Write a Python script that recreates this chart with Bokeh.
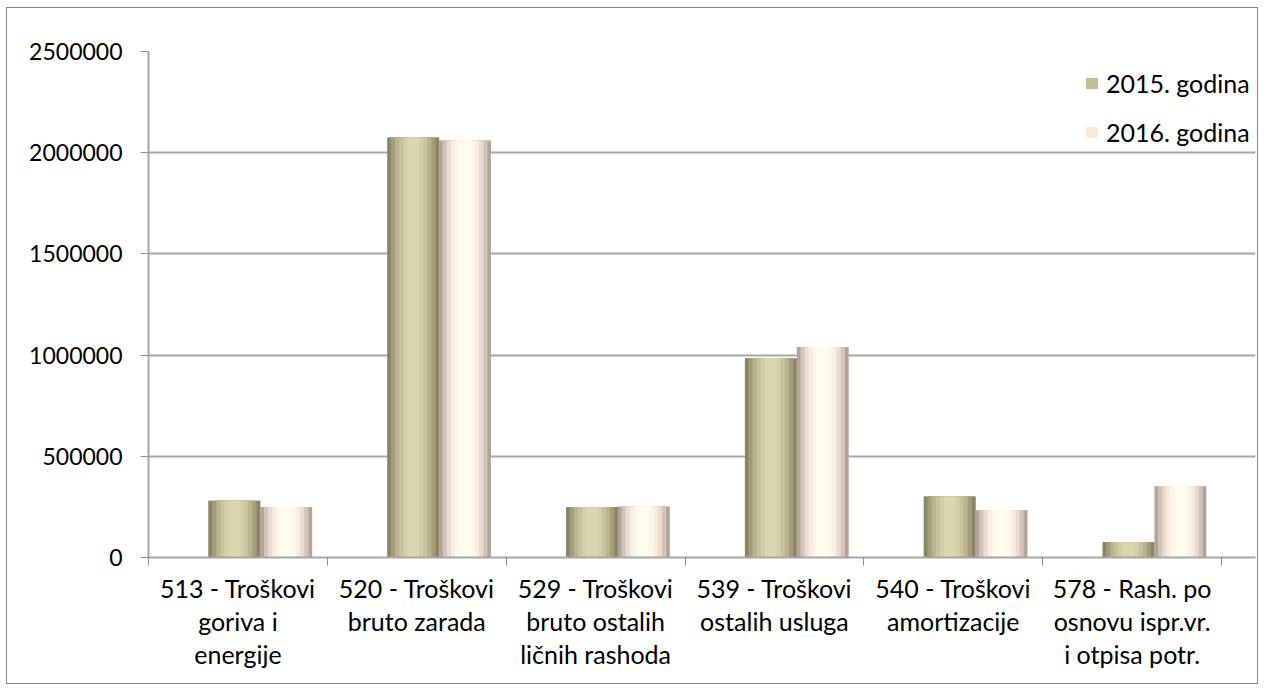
import numpy as np
from bokeh.plotting import figure
from bokeh.models import (ColumnDataSource, FixedTicker, NumeralTickFormatter, Range1d,
                          Legend, LegendItem, InlineStyleSheet)
from bokeh.transform import dodge
from bokeh.embed import file_html
from bokeh.resources import INLINE

categories = [
    "513 - Troškovi\ngoriva i\nenergije",
    "520 - Troškovi\nbruto zarada",
    "529 - Troškovi\nbruto ostalih\nličnih rashoda",
    "539 - Troškovi\nostalih usluga",
    "540 - Troškovi\namortizacije",
    "578 - Rash. po\nosnovu ispr.vr.\ni otpisa potr.",
]
series_names = ["2015. godina", "2016. godina"]
values_2015 = [280000, 2075000, 250000, 985000, 302000, 76000]
values_2016 = [250000, 2060000, 252000, 1040000, 233000, 352000]
y_ticks = [0, 500000, 1000000, 1500000, 2000000, 2500000]

FONT = "Lato"

centers = np.arange(len(categories)) + 0.5
src = ColumnDataSource(dict(x=centers, v15=values_2015, v16=values_2016))

p = figure(width=1252, height=677, output_backend="svg", toolbar_location=None,
           x_range=Range1d(0, 6.19), y_range=Range1d(0, 2500000),
           min_border_left=141, min_border_top=43, min_border_right=4, min_border_bottom=128)
p.margin = (7, 0, 0, 6)
p.stylesheets = [InlineStyleSheet(css=":host { border: 1px solid #868686; }")]
p.outline_line_color = None
p.background_fill_color = "white"
p.border_fill_color = "white"

# bars with a cylindrical shading (layered strips)
BW = 0.29
layers_2015 = [(1.00, "#8a8565"), (0.86, "#a39d7a"), (0.70, "#b9b38e"), (0.54, "#c9c39d"),
               (0.38, "#d5cfa8"), (0.22, "#dbd6ae")]
layers_2016 = [(1.00, "#b4a398"), (0.86, "#d4c3b8"), (0.70, "#ecdcd0"), (0.54, "#f9ece2"),
               (0.38, "#fff6ea"), (0.22, "#fffcef")]

base15 = p.vbar(x=dodge("x", -0.02), top="v15", width=BW, source=src,
                fill_color="#c4bc96", line_color=None)
base16 = p.vbar(x=dodge("x", 0.27), top="v16", width=BW, source=src,
                fill_color="#fde9d9", line_color=None)
for frac, col in layers_2015:
    p.vbar(x=dodge("x", -0.02), top="v15", width=BW * frac, source=src,
           fill_color=col, line_color=None)
for frac, col in layers_2016:
    p.vbar(x=dodge("x", 0.27), top="v16", width=BW * frac, source=src,
           fill_color=col, line_color=None)

# axes
p.yaxis.ticker = FixedTicker(ticks=y_ticks)
p.yaxis.formatter = NumeralTickFormatter(format="0")
p.yaxis.major_tick_in = 0
p.yaxis.major_tick_out = 8
p.yaxis.minor_tick_line_color = None
p.yaxis.major_label_standoff = 18
p.yaxis.axis_line_color = "#a6a6a6"
p.yaxis.axis_line_width = 2
p.yaxis.major_tick_line_color = "#8c8c8c"
p.yaxis.major_label_text_font = FONT
p.yaxis.major_label_text_font_size = "23px"
p.yaxis.major_label_text_color = "black"

p.xaxis.ticker = FixedTicker(ticks=list(centers), minor_ticks=list(range(0, 7)))
p.xaxis.major_label_overrides = {float(c): lab for c, lab in zip(centers, categories)}
p.xaxis.major_tick_line_color = None
p.xaxis.minor_tick_in = 0
p.xaxis.minor_tick_out = 8
p.xaxis.minor_tick_line_color = "#8c8c8c"
p.xaxis.axis_line_color = "#a6a6a6"
p.xaxis.axis_line_width = 2
p.xaxis.major_label_standoff = 7
p.xaxis.major_label_text_font = FONT
p.xaxis.major_label_text_font_size = "25px"
p.xaxis.major_label_text_color = "black"
p.xaxis.major_label_text_line_height = 1.1

p.xgrid.grid_line_color = None
p.ygrid.grid_line_color = "#a6a6a6"
p.ygrid.grid_line_width = 2

legend = Legend(items=[LegendItem(label=series_names[0], renderers=[base15]),
                       LegendItem(label=series_names[1], renderers=[base16])],
                location=(936, 410), padding=0, margin=0, spacing=19,
                glyph_width=15, glyph_height=14, label_height=28,
                label_standoff=7, background_fill_alpha=0, border_line_color=None,
                label_text_font=FONT, label_text_font_size="25px",
                label_text_color="black")
p.add_layout(legend)

open("out.html", "w").write(file_html(p, INLINE))
